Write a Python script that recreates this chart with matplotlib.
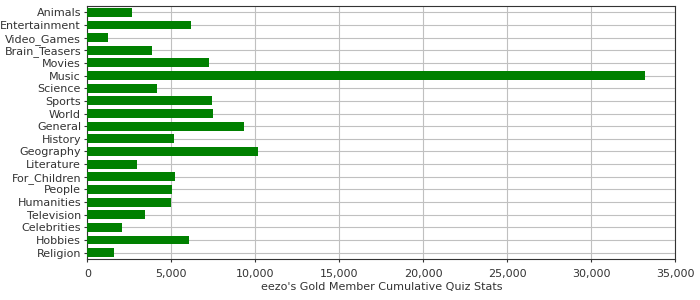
import matplotlib
matplotlib.use('Agg')
import matplotlib.pyplot as plt
from matplotlib.ticker import FuncFormatter

# categories top to bottom
categories = ['Animals', 'Entertainment', 'Video_Games', 'Brain_Teasers', 'Movies',
              'Music', 'Science', 'Sports', 'World', 'General', 'History',
              'Geography', 'Literature', 'For_Children', 'People', 'Humanities',
              'Television', 'Celebrities', 'Hobbies', 'Religion']
values = [2660, 6170, 1230, 3850, 7240, 33200, 4150, 7420, 7480, 9330, 5160,
          10160, 2960, 5220, 5040, 4980, 3440, 2070, 6050, 1590]
xticks = [0, 5000, 10000, 15000, 20000, 25000, 30000, 35000]

fig = plt.figure(figsize=(7, 3), dpi=100)
ax = fig.add_axes([87.3 / 700, 41 / 300, 588 / 700, 253 / 300])

ypos = list(range(len(categories)))
ax.barh(ypos, values, height=0.7, color='#008000', zorder=3)

ax.set_ylim(len(categories) - 0.5, -0.5)
ax.set_yticks(ypos)
ax.set_yticklabels(categories)
ax.set_xlim(0, 35000)
ax.set_xticks(xticks)
ax.xaxis.set_major_formatter(FuncFormatter(lambda v, p: f'{int(v):,}'))

ax.grid(True, color='#c0c0c0', linewidth=0.8, zorder=0)
ax.set_axisbelow(True)
for s in ax.spines.values():
    s.set_color('#333333')
    s.set_linewidth(0.8)

ax.tick_params(axis='both', labelsize=8, colors='#333333', length=2.5, width=0.8, pad=2)
ax.tick_params(axis='x', pad=5)
ax.set_xlabel("eezo's Gold Member Cumulative Quiz Stats", fontsize=8, color='#333333', labelpad=2)

fig.savefig('out.png', dpi=100)
